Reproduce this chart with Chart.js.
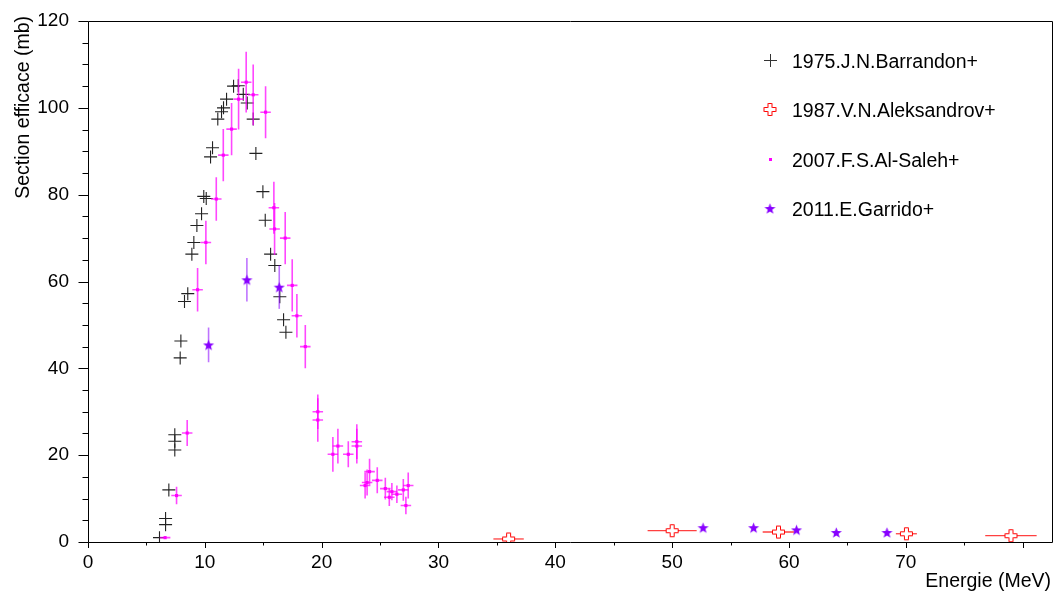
<!DOCTYPE html>
<html>
<head>
<meta charset="utf-8">
<title>Section efficace</title>
<script src="https://cdn.jsdelivr.net/npm/chart.js@4.4.1/dist/chart.umd.min.js"></script>
<style>
  html, body { margin: 0; padding: 0; background: #fff; }
  #wrap { width: 1054px; height: 594px; }
</style>
</head>
<body>
<div id="wrap"><canvas id="chart" width="1054" height="594"></canvas></div>
<script>
"use strict";

// 1975.J.N.Barrandon+
const barrandonE = [6.12, 6.64, 6.64, 6.92, 7.43, 7.43, 7.43, 7.89, 7.95, 8.26, 8.54, 8.89, 9.06, 9.32, 9.72, 9.91, 10.12, 10.49, 10.66, 11.11, 11.43, 11.6, 11.86, 12.46, 12.86, 13.29, 13.63, 14.14, 14.37, 14.97, 15.17, 15.63, 15.99, 16.42, 16.74, 16.94];
const barrandonSigma = [1.0, 5.4, 4.0, 12.0, 24.7, 23.2, 21.2, 42.4, 46.3, 55.4, 57.2, 66.3, 69.0, 72.9, 75.6, 79.6, 79.1, 88.7, 90.8, 97.4, 99.1, 100.0, 102.0, 105.0, 105.1, 103.1, 101.1, 97.4, 89.5, 80.7, 74.1, 66.3, 63.7, 56.5, 51.2, 48.3];

// 1987.V.N.Aleksandrov+
const aleksE = [36.0, 50.0, 59.1, 70.05, 79.0];
const aleksSigma = [0.7, 2.6, 2.3, 1.9, 1.45];
const aleksEErr = [1.3, 2.1, 1.35, 0.9, 2.2];

// 2007.F.S.Al-Saleh+
const alsalehE = [6.6, 7.58, 8.49, 9.38, 10.09, 10.98, 11.58, 12.29, 12.89, 13.54, 14.14, 15.2, 15.91, 15.97, 16.88, 17.48, 17.88, 18.6, 19.67, 19.67, 20.96, 21.39, 22.28, 23.01, 23.01, 23.72, 23.89, 24.1, 24.76, 25.45, 25.79, 26.01, 26.44, 26.99, 27.41, 27.21];
const alsalehSigma = [1.0, 10.7, 25.1, 58.1, 69.0, 79.0, 89.1, 95.1, 102.0, 105.9, 103.0, 99.0, 77.0, 72.1, 70.0, 59.1, 52.1, 45.0, 30.0, 28.1, 20.2, 22.1, 20.2, 23.1, 22.1, 13.0, 13.7, 16.2, 14.2, 12.3, 10.3, 11.6, 11.0, 12.0, 13.0, 8.4];
const alsalehSigmaErr = [0.3, 2, 3, 5, 5, 5, 6, 6, 7, 7, 7, 6, 6, 6, 6, 6, 5, 5, 4, 5, 4, 4, 3, 4, 4, 3, 3, 3, 3, 2.5, 2, 2, 2, 2.5, 3, 2];
const alsalehEErr = [0.45, 0.45, 0.45, 0.45, 0.45, 0.45, 0.45, 0.45, 0.45, 0.45, 0.45, 0.45, 0.45, 0.45, 0.45, 0.45, 0.45, 0.45, 0.45, 0.45, 0.45, 0.45, 0.45, 0.45, 0.45, 0.45, 0.45, 0.45, 0.45, 0.45, 0.45, 0.45, 0.45, 0.45, 0.45, 0.45];

// 2011.E.Garrido+
const garridoE = [10.32, 13.6, 16.37, 52.65, 56.97, 60.65, 64.05, 68.39];
const garridoSigma = [45.4, 60.4, 58.7, 3.3, 3.3, 2.8, 2.2, 2.2];
const garridoSigmaErr = [4, 5, 5, 0, 0, 0, 0, 0];

// axis ticks
const xTickLabels = [0, 10, 20, 30, 40, 50, 60, 70, 80];
const yTickLabels = [0, 20, 40, 60, 80, 100, 120];

const FONT = "'Liberation Sans', Arial, Helvetica, sans-serif";

// marker pictures
function openCross(color) {
  var c = document.createElement("canvas");
  c.width = 15; c.height = 15;
  var g = c.getContext("2d");
  var m = 7.5, L = 6, w = 2;
  var pts = [[-w, -L], [w, -L], [w, -w], [L, -w], [L, w], [w, w], [w, L], [-w, L], [-w, w], [-L, w], [-L, -w], [-w, -w]];
  g.beginPath();
  pts.forEach(function (p, i) {
    if (i == 0) g.moveTo(m + p[0], m + p[1]);
    else g.lineTo(m + p[0], m + p[1]);
  });
  g.closePath();
  g.fillStyle = "#fff";
  g.fill();
  g.strokeStyle = color;
  g.lineWidth = 1;
  g.stroke();
  return c;
}

function fullStar(color) {
  var c = document.createElement("canvas");
  c.width = 13; c.height = 13;
  var g = c.getContext("2d");
  var R = 5.8, r = 2.4;
  g.beginPath();
  for (var i = 0; i < 10; i++) {
    var a = -Math.PI / 2 + i * Math.PI / 5;
    var rad = i % 2 == 0 ? R : r;
    g.lineTo(6.5 + rad * Math.cos(a), 7 + rad * Math.sin(a));
  }
  g.closePath();
  g.fillStyle = color;
  g.fill();
  return c;
}

const redCross = openCross("#ff0000");
const violetStar = fullStar("#8800ff");

function pts(xs, ys) {
  return xs.map(function (x, i) { return { x: x, y: ys[i] }; });
}

// error bars, drawn just before each dataset's markers
const errorBars = {
  id: "errorBars",
  beforeDatasetDraw: function (chart, args) {
    var ds = chart.data.datasets[args.index];
    if (!ds.errs) return;
    var xs = chart.scales.x, ys = chart.scales.y, ctx = chart.ctx;
    ctx.save();
    ctx.strokeStyle = ds.errColor;
    ctx.lineWidth = ds.errWidth;
    ds.data.forEach(function (p, i) {
      var px = xs.getPixelForValue(p.x), py = ys.getPixelForValue(p.y);
      var ex = ds.errs.x ? ds.errs.x[i] : 0;
      var ey = ds.errs.y ? ds.errs.y[i] : 0;
      ctx.beginPath();
      if (ex) {
        ctx.moveTo(xs.getPixelForValue(p.x - ex), py);
        ctx.lineTo(xs.getPixelForValue(p.x + ex), py);
      }
      if (ey) {
        ctx.moveTo(px, ys.getPixelForValue(p.y + ey));
        ctx.lineTo(px, ys.getPixelForValue(p.y - ey));
      }
      ctx.stroke();
    });
    ctx.restore();
  }
};

// frame, tick marks, axis titles and legend
const decorations = {
  id: "decorations",
  afterDraw: function (chart) {
    var ctx = chart.ctx, a = chart.chartArea;
    var xs = chart.scales.x, ys = chart.scales.y;
    var L = Math.round(a.left) + 0.5, R = Math.round(a.right) - 0.5;
    var T = Math.round(a.top) + 0.5, B = Math.round(a.bottom) + 0.5;
    ctx.save();
    ctx.lineWidth = 1;
    ctx.strokeStyle = "#000";
    ctx.beginPath();
    ctx.moveTo(L, T); ctx.lineTo(R, T); ctx.lineTo(R, B); ctx.lineTo(L, B); ctx.closePath();
    ctx.stroke();

    // ticks every 5
    ctx.beginPath();
    for (var v = 0; v <= xs.max; v += 5) {
      var px = Math.round(xs.getPixelForValue(v)) + 0.5;
      var len = v % 10 == 0 ? 5.5 : 3;
      ctx.moveTo(px, B); ctx.lineTo(px, B + len);
    }
    for (var w = 0; w <= ys.max; w += 5) {
      var py = Math.round(ys.getPixelForValue(w)) + 0.5;
      var ylen = w % 20 == 0 ? 10 : 6;
      ctx.moveTo(L, py); ctx.lineTo(L - ylen, py);
    }
    ctx.stroke();

    // axis titles
    ctx.fillStyle = "#000";
    ctx.font = "19.5px " + FONT;
    ctx.textAlign = "right";
    ctx.textBaseline = "alphabetic";
    ctx.fillText("Energie (MeV)", 1051, 587);
    ctx.save();
    ctx.translate(29, 16);
    ctx.rotate(-Math.PI / 2);
    ctx.fillText("Section efficace (mb)", 0, 0);
    ctx.restore();

    // legend
    var rows = [60, 109.5, 159, 208.5];
    ctx.textAlign = "left";
    chart.data.datasets.forEach(function (ds, i) {
      var cy = rows[i], cx = 770;
      if (ds.pointStyle == "cross") {
        ctx.strokeStyle = "#333";
        ctx.beginPath();
        ctx.moveTo(cx - 6, cy + 0.5); ctx.lineTo(cx + 7, cy + 0.5);
        ctx.moveTo(cx + 0.5, cy - 6); ctx.lineTo(cx + 0.5, cy + 7);
        ctx.stroke();
      } else if (ds.pointStyle == "rect") {
        ctx.fillStyle = ds.pointBackgroundColor;
        ctx.fillRect(cx - 1, cy - 1, 3, 3);
      } else {
        ctx.drawImage(ds.pointStyle, cx - ds.pointStyle.width / 2, cy - ds.pointStyle.height / 2);
      }
      ctx.fillStyle = "#000";
      ctx.fillText(ds.label, 792, cy + 7.5);
    });
    ctx.restore();
  }
};

new Chart(document.getElementById("chart"), {
  type: "scatter",
  data: {
    datasets: [
      {
        label: "1975.J.N.Barrandon+",
        data: pts(barrandonE, barrandonSigma),
        pointStyle: "cross",
        pointRadius: 6.5,
        pointBorderWidth: 1.1,
        pointBorderColor: "#222",
        pointBackgroundColor: "#222",
        order: 4
      },
      {
        label: "1987.V.N.Aleksandrov+",
        data: pts(aleksE, aleksSigma),
        pointStyle: redCross,
        pointRadius: 7,
        errs: { x: aleksEErr },
        errColor: "rgba(255,0,0,0.75)",
        errWidth: 1.3,
        order: 3
      },
      {
        label: "2007.F.S.Al-Saleh+",
        data: pts(alsalehE, alsalehSigma),
        pointStyle: "rect",
        pointRadius: 2.2,
        pointBorderWidth: 0,
        pointBackgroundColor: "#ff00ff",
        pointBorderColor: "#ff00ff",
        errs: { x: alsalehEErr, y: alsalehSigmaErr },
        errColor: "rgba(255,0,255,0.72)",
        errWidth: 1.6,
        order: 2
      },
      {
        label: "2011.E.Garrido+",
        data: pts(garridoE, garridoSigma),
        pointStyle: violetStar,
        pointRadius: 6,
        errs: { y: garridoSigmaErr },
        errColor: "rgba(136,0,255,0.55)",
        errWidth: 1.6,
        order: 1
      }
    ]
  },
  options: {
    responsive: false,
    animation: false,
    events: [],
    layout: { autoPadding: false, padding: { top: 21, right: 1, left: 0, bottom: 0 } },
    plugins: {
      legend: { display: false },
      tooltip: { enabled: false }
    },
    scales: {
      x: {
        type: "linear",
        min: 0,
        max: 82.6,
        afterFit: function (s) { s.height = 52; s.paddingLeft = 0; s.paddingRight = 0; },
        grid: { display: false, drawTicks: false },
        border: { display: false },
        ticks: {
          stepSize: 5,
          autoSkip: false,
          maxRotation: 0,
          padding: 9,
          color: "#000",
          font: { family: FONT, size: 19 },
          callback: function (v) { return xTickLabels.indexOf(v) >= 0 ? String(v) : ""; }
        }
      },
      y: {
        type: "linear",
        min: 0,
        max: 120,
        afterFit: function (s) { s.width = 88; s.paddingTop = 0; s.paddingBottom = 0; },
        grid: { display: false, drawTicks: false },
        border: { display: false },
        ticks: {
          stepSize: 5,
          autoSkip: false,
          padding: 19,
          color: "#000",
          font: { family: FONT, size: 19 },
          callback: function (v) { return yTickLabels.indexOf(v) >= 0 ? String(v) : ""; }
        }
      }
    }
  },
  plugins: [errorBars, decorations]
});
</script>
</body>
</html>
